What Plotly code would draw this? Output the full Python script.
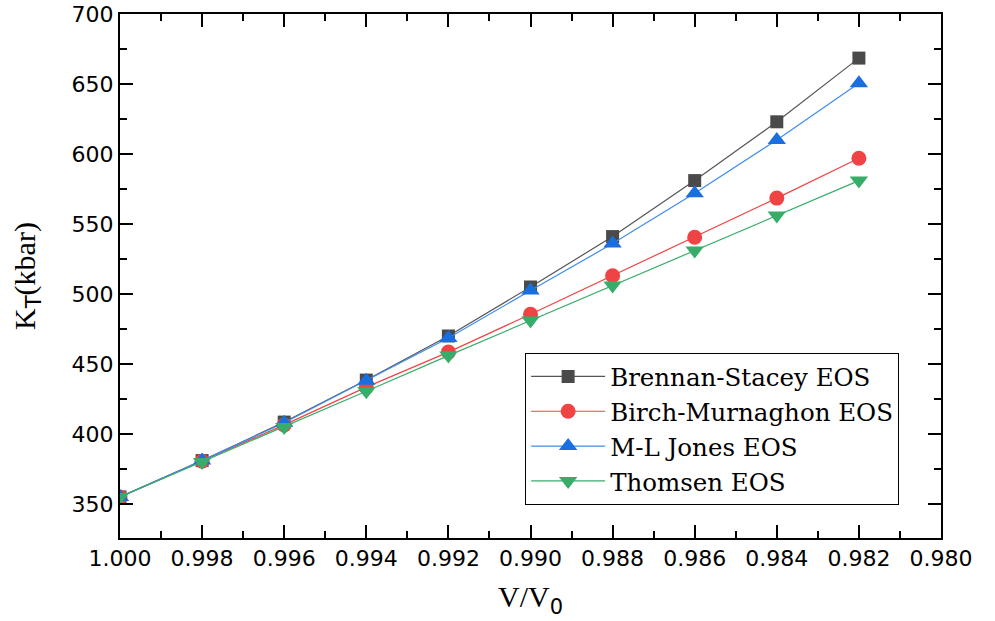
import plotly.graph_objects as go

# Relative volume V/V0
v_ratio = [1.000, 0.998, 0.996, 0.994, 0.992, 0.990, 0.988, 0.986, 0.984, 0.982]

# Isothermal bulk modulus K_T (kbar) from each equation of state
brennan_stacey = [355, 381, 408.5, 438.5, 470, 505, 541, 581, 623, 668.5]
birch_murnaghon = [355, 380.5, 406.5, 433.5, 458.5, 485.5, 513, 540.5, 568.5, 597]
ml_jones = [355, 381, 408, 438, 468.5, 502.5, 536, 572, 610, 650.5]
thomsen = [355, 380, 405, 430.5, 456, 481, 506, 531, 556, 581]

series = [
    ("Brennan-Stacey EOS", brennan_stacey, "#4a4a4a", "#555555", "square", 13),
    ("Birch-Murnaghon EOS", birch_murnaghon, "#f04444", "#f04444", "circle", 15),
    ("M-L Jones EOS", ml_jones, "#1a6fe0", "#3f8cf0", "triangle-up", 16),
    ("Thomsen EOS", thomsen, "#38ad6a", "#38ad6a", "triangle-down", 16),
]

fig = go.Figure()
for name, vals, mcol, lcol, sym, size in series:
    fig.add_trace(go.Scatter(
        x=v_ratio, y=vals, name=name, mode="lines+markers",
        line=dict(color=lcol, width=1.2),
        marker=dict(symbol=sym, size=size, color=mcol, line=dict(width=0)),
    ))

tick_font = dict(family="DejaVu Sans, Arial, sans-serif", size=22, color="black")
serif = "Liberation Serif, Times New Roman, serif"

axis_common = dict(
    showline=True, linecolor="black", linewidth=2, mirror="allticks",
    ticks="inside", ticklen=13, tickwidth=2, tickcolor="black",
    showgrid=False, zeroline=False, tickfont=tick_font, automargin=False,
)

fig.update_xaxes(
    range=[1.000, 0.980], dtick=0.002, tick0=1.0, tickformat=".3f",
    minor=dict(ticks="inside", ticklen=7, tickwidth=2, tickcolor="black", dtick=0.001),
    title=dict(text="V/V<sub><span style='font-family:DejaVu Sans'>0</span></sub>",
               font=dict(family=serif, size=30, color="black"), standoff=16),
    **axis_common,
)
fig.update_yaxes(
    range=[325.7, 700], dtick=50, tick0=350,
    minor=dict(ticks="inside", ticklen=7, tickwidth=2, tickcolor="black", dtick=25),
    title=dict(text="K<sub><span style='font-family:DejaVu Sans'>T</span></sub>(kbar)",
               font=dict(family=serif, size=30, color="black"), standoff=27),
    **axis_common,
)

fig.update_layout(
    width=995, height=621,
    margin=dict(l=120, r=54, t=14, b=83),
    plot_bgcolor="white", paper_bgcolor="white",
    showlegend=True,
    legend=dict(
        x=0.949, y=0.063, xanchor="right", yanchor="bottom",
        bgcolor="white", bordercolor="black", borderwidth=1,
        font=dict(family="DejaVu Serif, serif", size=24.5, color="black"),
        itemwidth=74, tracegroupgap=0,
    ),
)

fig.write_html("out.html")
